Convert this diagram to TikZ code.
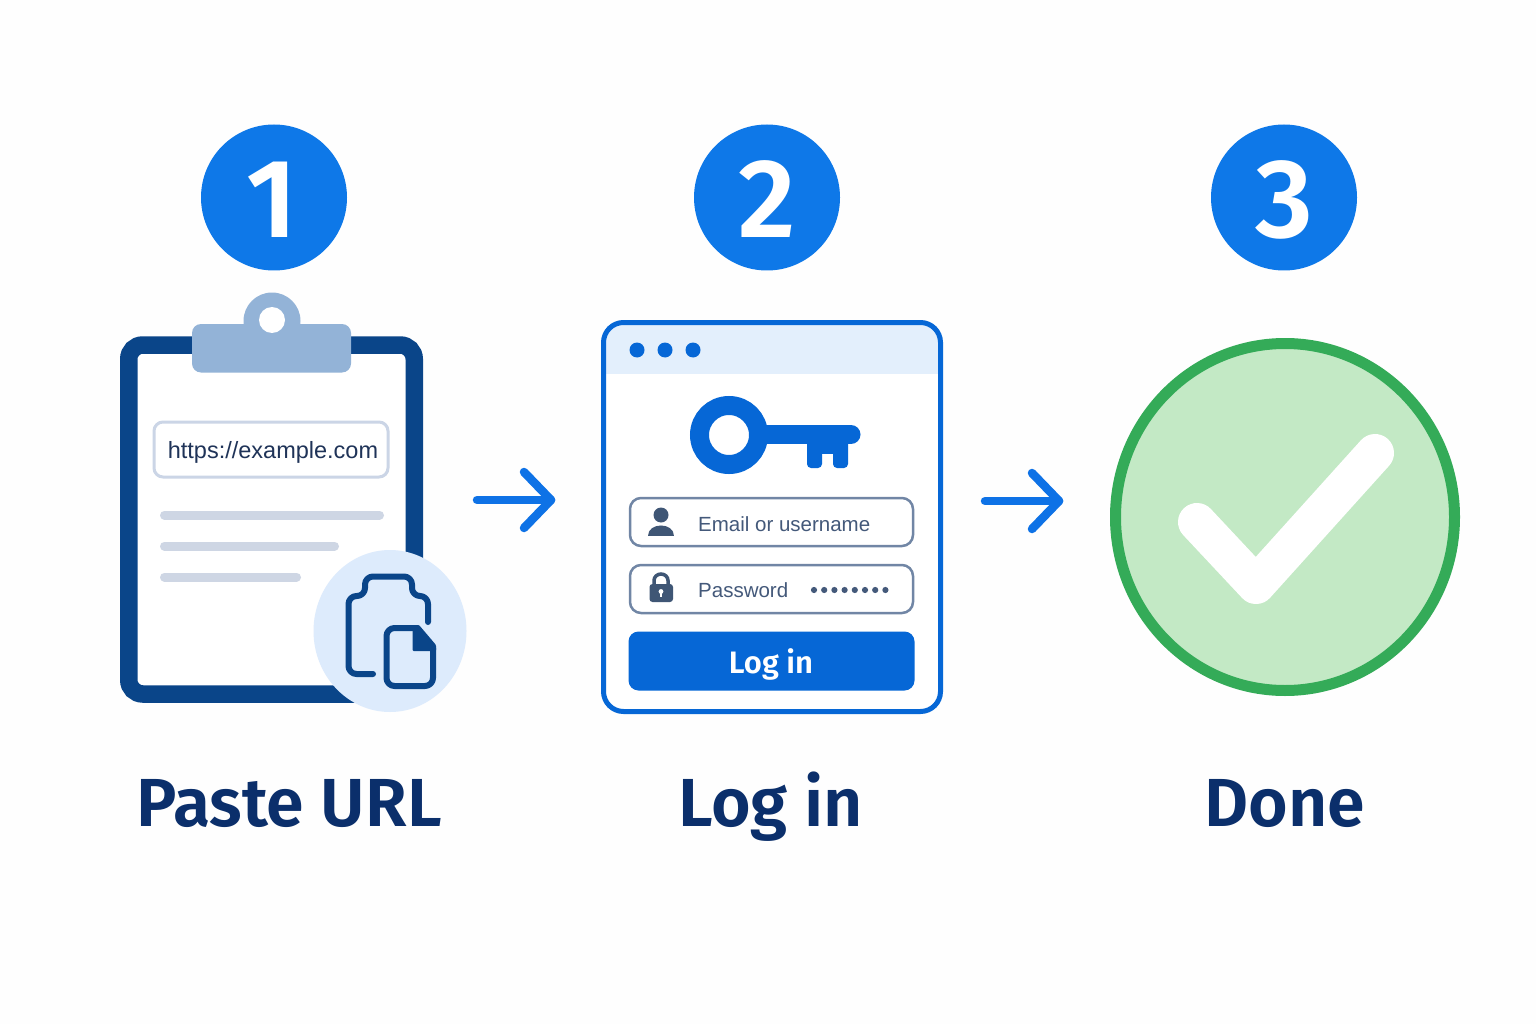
\documentclass[tikz,border=0pt]{standalone}
\usepackage{fontspec}
\setmainfont{Liberation Sans}
\newfontfamily\titlefont{Fira Sans SemiBold}
\definecolor{bgc}{HTML}{FEFEFE}
\definecolor{stepblue}{HTML}{0E78E8}
\definecolor{navy}{HTML}{0A4589}
\definecolor{cliplt}{HTML}{93B3D7}
\definecolor{urlline}{HTML}{CBD5E6}
\definecolor{greybar}{HTML}{CED6E4}
\definecolor{paleblue}{HTML}{DDEBFC}
\definecolor{urltext}{HTML}{1F3358}
\definecolor{winblue}{HTML}{0667D6}
\definecolor{headlt}{HTML}{E3EFFC}
\definecolor{fieldline}{HTML}{7186A5}
\definecolor{fieldtext}{HTML}{44597A}
\definecolor{iconslate}{HTML}{3F5675}
\definecolor{arrowblue}{HTML}{0E72E6}
\definecolor{okgreen}{HTML}{34AB58}
\definecolor{okfill}{HTML}{C3E9C5}
\definecolor{titlec}{HTML}{0B2F6B}
\tikzset{
  stepnum/.style={inner sep=0pt,anchor=base,text=white,font=\titlefont\fontsize{112}{112}\selectfont},
  caption/.style={inner sep=0pt,anchor=base,text=titlec,font=\titlefont\fontsize{68}{68}\selectfont},
  fieldbox/.style={draw=fieldline,line width=2.5pt,fill=white,rounded corners=11pt},
  fieldlabel/.style={inner sep=0pt,anchor=base west,text=fieldtext,font=\fontsize{20.5}{22}\selectfont},
  greyline/.style={line width=9pt,line cap=round,draw=greybar},
  flowarrow/.style={line width=8.5pt,line cap=round,line join=round,draw=arrowblue},
  copyline/.style={line width=6pt,draw=navy,line cap=round,line join=round}
}
\begin{document}
\begin{tikzpicture}[x=1pt,y=-1pt]
\useasboundingbox (0,0) rectangle (1536,1024);
\fill[bgc] (0,0) rectangle (1536,1024);
% step discs
\fill[stepblue] (274,197.5) circle (73pt);
\fill[stepblue] (767,197.5) circle (73pt);
\fill[stepblue] (1284,197.5) circle (73pt);
\node[stepnum] (n1) at (272,238) {1};
\node[stepnum] (n2) at (767,238) {2};
\node[stepnum] (n3) at (1284,238) {3};
% clipboard
\draw[navy,line width=17.5pt,fill=white,rounded corners=14pt] (128.75,345) rectangle (414.25,694);
\fill[cliplt] (272,321) circle (28.5pt);
\fill[cliplt,rounded corners=9pt] (192,324) rectangle (351,372.5);
\fill[white] (272,320) circle (13pt);
\node[draw=urlline,line width=3pt,fill=white,rounded corners=9pt,minimum width=234pt,minimum height=55pt,inner sep=0pt] (urlbox) at (271,449.5) {};
\node[inner sep=0pt,anchor=base,text=urltext,font=\fontsize{23.5}{24}\selectfont] (urltext) at (273,458) {https://example.com};
\draw[greyline] (164.5,515) -- (379.5,515);
\draw[greyline] (164.5,546) -- (334.5,546);
\draw[greyline] (164.5,577) -- (296.5,577);
% copy badge
\fill[paleblue] (390,631) ellipse[x radius=76.5pt,y radius=81pt];
\draw[copyline,rounded corners=8pt] (428,622) -- (428,596) -- (412,596) -- (412,576.5) -- (365,576.5) -- (365,596) -- (348.5,596) -- (348.5,674) -- (373,674);
\draw[copyline,rounded corners=8pt] (415,628) -- (386.5,628) -- (386.5,686) -- (433,686) -- (433,648);
\fill[navy,rounded corners=1pt] (412.5,625) -- (419,625) -- (436,645) -- (436,651) -- (412.5,651) -- cycle;
% login window
\fill[white] (603.5,322.5) [rounded corners=20pt] rectangle (940.5,711.5);
\begin{scope}
\clip[rounded corners=20pt] (603.5,322.5) rectangle (940.5,711.5);
\fill[headlt] (603.5,322.5) rectangle (940.5,373.5);
\end{scope}
\draw[winblue,line width=5pt,rounded corners=20pt] (603.5,322.5) rectangle (940.5,711.5);
\foreach \x in {637,665,693} \fill[winblue] (\x,350) circle (7.5pt);
% key
\draw[winblue,line width=19pt] (729,435) circle (29.5pt);
\draw[winblue,line width=19pt,line cap=round] (760,434.5) -- (851,434.5);
\fill[winblue,rounded corners=4pt] (807,436) -- (822,436) -- (822,468) -- (807,468) -- cycle;
\fill[winblue,rounded corners=4pt] (833,436) -- (848,436) -- (848,468) -- (833,468) -- cycle;
\fill[winblue] (807,440) rectangle (848,453.5);
% fields
\node[fieldbox,minimum width=283pt,minimum height=48pt,inner sep=0pt] (email) at (771.5,522) {};
\node[fieldbox,minimum width=283pt,minimum height=48pt,inner sep=0pt] (pass) at (771.5,589) {};
\node[fieldlabel] (emailt) at (698,531.5) {Email or username};
\node[fieldlabel] (passt) at (698,597.5) {Password};
\foreach \i in {0,...,7} \fill[fieldtext] (814+\i*10.2,590) circle (3.1pt);
% person
\fill[iconslate] (661,515) circle (7.5pt);
\fill[iconslate] (648,536) .. controls (648,522) and (674,522) .. (674,536) -- cycle;
% lock
\draw[iconslate,line width=3.5pt] (654,586) -- (654,580.5) arc[start angle=180,end angle=0,x radius=7,y radius=-6.5] -- (668,586);
\fill[iconslate,rounded corners=3pt] (649.5,584) rectangle (673,602);
\fill[white] (661,591.5) circle (2.4pt);
\fill[white] (660,592) rectangle (662,597);
% button
\node[fill=winblue,rounded corners=10pt,minimum width=286pt,minimum height=59pt,inner sep=0pt] (btn) at (771.5,661) {};
\node[inner sep=0pt,anchor=base,text=white,font=\titlefont\fontsize{31}{31}\selectfont] (btnt) at (771,673) {Log in};
% arrows
\coordinate (a1s) at (477,500); \coordinate (a1e) at (551,500);
\coordinate (a1u) at (524,472); \coordinate (a1d) at (524,528);
\coordinate (a2s) at (985,501); \coordinate (a2e) at (1059,501);
\coordinate (a2u) at (1032,473); \coordinate (a2d) at (1032,529);
\draw[flowarrow] (a1s) -- (a1e);
\draw[flowarrow] (a1u) -- (a1e) -- (a1d);
\draw[flowarrow] (a2s) -- (a2e);
\draw[flowarrow] (a2u) -- (a2e) -- (a2d);
% done check
\draw[okgreen,line width=11pt,fill=okfill] (1285,517) ellipse[x radius=169.5pt,y radius=173.5pt];
\draw[white,line width=38pt,line cap=round,line join=round] (1197,522) -- (1256,585) -- (1375,453);
% captions
\node[caption] (c1) at (289,826) {Paste URL};
\node[caption] (c2) at (770.5,826) {Log in};
\node[caption] (c3) at (1284.5,826) {Done};
\end{tikzpicture}
\end{document}
